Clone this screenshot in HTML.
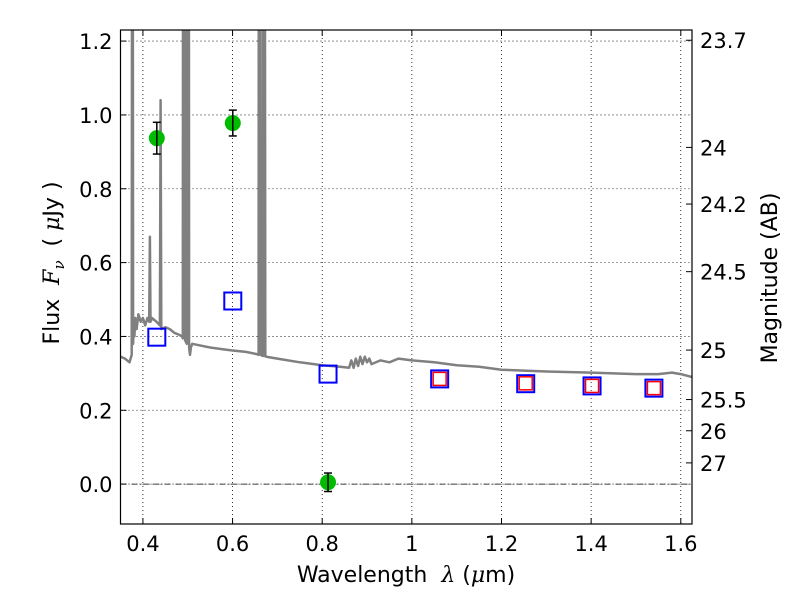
<!DOCTYPE html>
<html><head><meta charset="utf-8"><style>
body{margin:0;background:#fff}
svg text{font-family:"DejaVu Sans","Liberation Sans",sans-serif;fill:#000}
</style></head><body>
<svg id="c" width="800" height="600" xmlns="http://www.w3.org/2000/svg"></svg>
<script>
const xTicks=[0.4,0.6,0.8,1.0,1.2,1.4,1.6];
const xTickLabels=["0.4","0.6","0.8","1","1.2","1.4","1.6"];
const yTicks=[0.0,0.2,0.4,0.6,0.8,1.0,1.2];
const yTickLabels=["0.0","0.2","0.4","0.6","0.8","1.0","1.2"];
const magTicks=[23.7,24,24.2,24.5,25,25.5,26,27];
const magTickLabels=["23.7","24","24.2","24.5","25","25.5","26","27"];
const specLam=[0.35,0.36,0.37,0.375,0.3765,0.378,0.3795,0.381,0.383,0.386,0.39,0.395,0.40,0.405,0.41,0.414,0.4155,0.417,0.42,0.43,0.438,0.4395,0.441,0.45,0.46,0.47,0.48,0.487,0.489,0.490,0.492,0.494,0.496,0.498,0.500,0.502,0.503,0.505,0.507,0.51,0.53,0.55,0.58,0.60,0.63,0.655,0.658,0.659,0.661,0.663,0.666,0.668,0.669,0.671,0.673,0.676,0.680,0.70,0.75,0.80,0.84,0.86,0.865,0.87,0.875,0.88,0.885,0.89,0.895,0.90,0.905,0.91,0.93,0.95,0.97,1.0,1.05,1.1,1.15,1.2,1.3,1.4,1.5,1.55,1.58,1.6,1.625];
const specFlux=[0.345,0.34,0.33,0.35,3,0.38,0.43,0.40,0.45,0.42,0.46,0.44,0.45,0.43,0.45,0.44,0.67,0.44,0.45,0.44,0.43,1.04,0.42,0.425,0.42,0.41,0.405,0.40,0.395,3,3,0.39,0.385,0.38,3,3,0.37,0.35,0.37,0.38,0.375,0.37,0.365,0.362,0.358,0.352,0.35,3,3,0.35,0.348,0.347,3,3,0.346,0.345,0.344,0.34,0.33,0.322,0.318,0.315,0.335,0.315,0.34,0.32,0.345,0.325,0.345,0.33,0.34,0.325,0.335,0.33,0.34,0.335,0.33,0.322,0.318,0.31,0.305,0.302,0.298,0.298,0.302,0.298,0.29];
const detLam=[0.431,0.6005,0.813];
const detFlux=[0.937,0.978,0.005];
const detErr=[0.043,0.035,0.025];
const blueLam=[0.431,0.6005,0.813,1.062,1.254,1.402,1.54];
const blueFlux=[0.398,0.496,0.298,0.285,0.272,0.266,0.26];
const redLam=[1.062,1.254,1.402,1.54];
const redFlux=[0.285,0.273,0.266,0.26];

const L=120.5,R=692,T=30,B=524;
const x0=0.35,x1=1.625,y0=-0.108,y1=1.23;
const X=v=>L+(v-x0)/(x1-x0)*(R-L);
const Y=v=>B-(v-y0)/(y1-y0)*(B-T);
const NS="http://www.w3.org/2000/svg";
const svg=document.getElementById('c');
function mk(t,a,p){const e=document.createElementNS(NS,t);for(const k in a)e.setAttribute(k,a[k]);(p||svg).appendChild(e);return e;}

const defs=mk('defs',{});const cp=mk('clipPath',{id:'clip'},defs);mk('rect',{x:L,y:T,width:R-L,height:B-T},cp);

const grid=mk('g',{});


xTicks.forEach(v=>{mk('line',{x1:X(v),x2:X(v),y1:T,y2:B,stroke:'#000','stroke-width':0.8,'stroke-dasharray':'1,3'},grid);});
yTicks.forEach(v=>{mk('line',{x1:L,x2:R,y1:Y(v),y2:Y(v),stroke:'#000','stroke-width':0.8,'stroke-dasharray':'1,3'},grid);});
const zl=mk('line',{x1:L,x2:R,y1:Y(0),y2:Y(0),stroke:'#000','stroke-width':0.8,'stroke-dasharray':'6,2,1,2'});



let d='';specLam.forEach((l,i)=>{d+=(i?'L':'M')+X(l).toFixed(1)+','+Y(specFlux[i]).toFixed(1);});
const sp=mk('path',{d:d,fill:'none',stroke:'#808080','stroke-width':2.5,'clip-path':'url(#clip)','stroke-linejoin':'round'});



blueLam.forEach((l,i)=>{const r=mk('rect',{x:X(l)-8.5,y:Y(blueFlux[i])-8.5,width:17,height:17,fill:'none',stroke:'#0000ff','stroke-width':2});

});
redLam.forEach((l,i)=>{const r=mk('rect',{x:X(l)-6.5,y:Y(redFlux[i])-6.5,width:13,height:13,fill:'none',stroke:'#ff0000','stroke-width':1.5});

});
detLam.forEach((l,i)=>{const g=mk('g',{});


mk('circle',{cx:X(l),cy:Y(detFlux[i]),r:8,fill:'#00bb00'},g);
const xa=X(l),ya=Y(detFlux[i]+detErr[i]),yb=Y(detFlux[i]-detErr[i]);
mk('line',{x1:xa,x2:xa,y1:ya,y2:yb,stroke:'#000','stroke-width':1.5},g);
mk('line',{x1:xa-4,x2:xa+4,y1:ya,y2:ya,stroke:'#000','stroke-width':1.5},g);
mk('line',{x1:xa-4,x2:xa+4,y1:yb,y2:yb,stroke:'#000','stroke-width':1.5},g);});

const fr=mk('rect',{x:L,y:T,width:R-L,height:B-T,fill:'none',stroke:'#000','stroke-width':1.2});



xTicks.forEach((v,i)=>{mk('line',{x1:X(v),x2:X(v),y1:B,y2:B-6,stroke:'#000'});mk('line',{x1:X(v),x2:X(v),y1:T,y2:T+6,stroke:'#000'});
const t=mk('text',{x:X(v),y:B+27,'text-anchor':'middle','font-size':21});t.textContent=xTickLabels[i];

});
yTicks.forEach((v,i)=>{mk('line',{x1:L,x2:L+6,y1:Y(v),y2:Y(v),stroke:'#000'});
const t=mk('text',{x:L-8,y:Y(v)+8,'text-anchor':'end','font-size':21});t.textContent=yTickLabels[i];

});
magTicks.forEach((m,i)=>{const y=Y(Math.pow(10,(23.9-m)/2.5));mk('line',{x1:R,x2:R-6,y1:y,y2:y,stroke:'#000'});
const t=mk('text',{x:R+8,y:y+8,'font-size':21});t.textContent=magTickLabels[i];

});

const xl=mk('text',{x:406,y:582,'text-anchor':'middle','font-size':22});
xl.innerHTML='Wavelength\u00a0 <tspan font-family="DejaVu Serif" font-style="italic">λ</tspan> (<tspan font-family="DejaVu Serif" font-style="italic">μ</tspan>m)';


const yl=mk('text',{x:0,y:0,'text-anchor':'middle','font-size':22,transform:'translate(59,263) rotate(-90)'});
yl.innerHTML='Flux\u00a0 <tspan font-family="DejaVu Serif" font-style="italic">F</tspan><tspan font-family="DejaVu Serif" font-style="italic" font-size="15" dy="5">ν</tspan><tspan dy="-5">\u00a0 ( </tspan><tspan font-family="DejaVu Serif" font-style="italic">μ</tspan>Jy )';


const ml=mk('text',{x:0,y:0,'text-anchor':'middle','font-size':22,transform:'translate(777,278) rotate(-90)'});
ml.textContent='Magnitude (AB)';


</script>
</body></html>
